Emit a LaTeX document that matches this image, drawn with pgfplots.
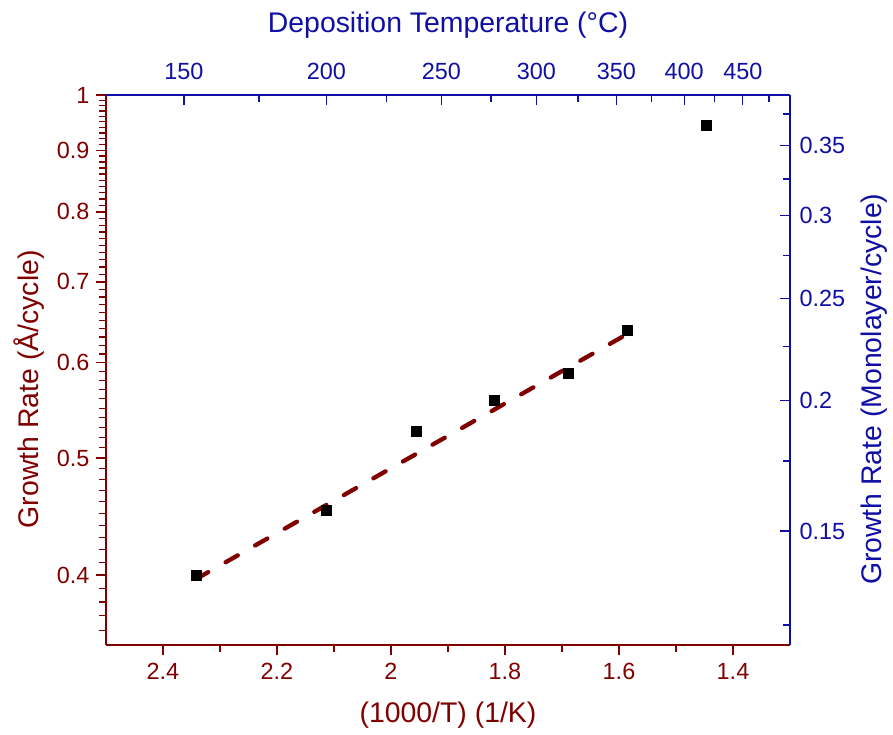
\documentclass[border=0pt]{standalone}
\usepackage{fontspec}
\setmainfont{Liberation Sans}
\usepackage{pgfplots}
\pgfplotsset{compat=1.18}
\definecolor{dred}{RGB}{128,0,0}
\definecolor{dblue}{RGB}{15,15,165}

\begin{document}
\begin{tikzpicture}
\useasboundingbox (0,0) rectangle (893bp,735bp);
% comb of minor ticks of the left (log) axis, on a linear ln-scale
\begin{axis}[
  at={(106bp,90bp)}, anchor=south west,
  scale only axis, width=684bp, height=550bp,
  xmin=1.3, xmax=2.5, x dir=reverse,
  ymin=-1.04982, ymax=0,
  axis x line=none, axis y line*=left,
  axis line style={draw=none},
  xtick=\empty,
  ytick={-1.02165,-0.99425,-0.96758,-0.94161,-0.89160,-0.86750,-0.84397,-0.82098,-0.79851,-0.77653,-0.75502,-0.73397,-0.71335,-0.67334,-0.65393,-0.63488,-0.61619,-0.59784,-0.57982,-0.56212,-0.54473,-0.52763,-0.49430,-0.47804,-0.46204,-0.44629,-0.43078,-0.41552,-0.40048,-0.38566,-0.37106,-0.34249,-0.32850,-0.31471,-0.30111,-0.28768,-0.27444,-0.26136,-0.24846,-0.23572,-0.21072,-0.19845,-0.18633,-0.17435,-0.16252,-0.15082,-0.13926,-0.12783,-0.11653,-0.09431,-0.08338,-0.07257,-0.06188,-0.05129,-0.04082,-0.03046,-0.02020,-0.01005},
  yticklabels={},
  tick align=outside,
  major tick length=7bp,
  every tick/.style={dred, line width=1.2bp},
]
\end{axis}
\begin{axis}[
  at={(106bp,90bp)}, anchor=south west,
  scale only axis, width=684bp, height=550bp,
  xmin=1.3, xmax=2.5, x dir=reverse,
  ymode=log, ymin=0.35, ymax=1,
  axis x line*=bottom, axis y line*=left,
  axis line style={dred, line width=1.4bp, -},
  every outer x axis line/.append style={-},
  every outer y axis line/.append style={-},
  xtick={1.4,1.6,1.8,2.0,2.2,2.4},
  xticklabels={1.4,1.6,1.8,2,2.2,2.4},
  minor xtick={1.5,1.7,1.9,2.1,2.3},
  ytick={0.4,0.5,0.6,0.7,0.8,0.9,1},
  yticklabels={0.4,0.5,0.6,0.7,0.8,0.9,1},
  tick align=outside,
  major tick length=10bp, minor tick length=7bp,
  every tick/.style={dred, line width=1.4bp},
  /pgf/number format/assume math mode=true,
  tick label style={font=\fontsize{23.5}{26}\selectfont, text=dred},
  xticklabel style={yshift=-5bp},
  yticklabel style={xshift=-3bp},
  xlabel={(1000/T) (1/K)}, ylabel={Growth Rate (Å/cycle)},
  label style={font=\fontsize{28.5}{32}\selectfont, text=dred},
  ylabel style={at={(ticklabel cs:0.465)}},
  xlabel shift=15bp, ylabel shift=6bp,
  clip=false,
]
\addplot[dred, line width=4.3bp, line cap=round, dash pattern=on 14bp off 20bp]
  coordinates {(2.342,0.397) (1.586,0.6335)};
\addplot[only marks, mark=square*, mark size=5bp, black] coordinates {
  (2.342,0.400) (2.114,0.453) (1.956,0.526) (1.819,0.558)
  (1.689,0.588) (1.586,0.638) (1.447,0.944)};
\end{axis}
\begin{axis}[
  at={(106bp,90bp)}, anchor=south west,
  scale only axis, width=684bp, height=550bp,
  xmin=1.3, xmax=2.5, x dir=reverse,
  ymode=log, ymin=0.1168, ymax=0.391,
  axis x line*=top, axis y line*=right,
  axis line style={dblue, line width=1.4bp, -},
  every outer x axis line/.append style={-},
  every outer y axis line/.append style={-},
  xtick={2.36323,2.11349,1.91150,1.74474,1.60475,1.48555,1.38284},
  xticklabels={150,200,250,300,350,400,450},
  minor xtick={2.23139,2.00743,1.82432,1.67182,1.54285,1.43236,1.33663},
  ytick={0.15,0.2,0.25,0.3,0.35},
  yticklabels={0.15,0.2,0.25,0.3,0.35},
  minor ytick={0.122,0.175,0.225,0.275,0.325,0.375},
  tick align=inside,
  major tick length=10bp, minor tick length=7bp,
  every tick/.style={dblue, line width=1.4bp},
  every minor tick/.style={dblue, line width=1.4bp},
  /pgf/number format/assume math mode=true,
  tick label style={font=\fontsize{23.5}{26}\selectfont, text=dblue},
  xticklabel style={yshift=12bp},
  yticklabel style={xshift=6bp},
  xlabel={Deposition Temperature (°C)}, ylabel={Growth Rate (Monolayer/cycle)},
  label style={font=\fontsize{28.5}{32}\selectfont, text=dblue},
  ylabel style={at={(ticklabel cs:0.465)}},
  xlabel shift=18bp, ylabel shift=9bp,
]
\end{axis}
\end{tikzpicture}
\end{document}
